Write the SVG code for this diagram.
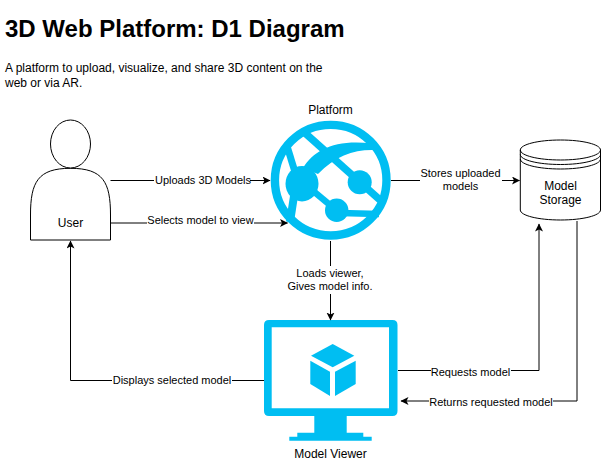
<svg xmlns="http://www.w3.org/2000/svg" width="601" height="461" viewBox="0 0 601 461">
<style>
text{font-family:"Liberation Sans",Arial,sans-serif;fill:#000;text-anchor:middle}
.l{font-size:11px}.n{font-size:12px}
.title{font-size:24px;font-weight:bold;text-anchor:start}
.desc{font-size:12px;text-anchor:start}
.c{fill:none;stroke:#000;stroke-width:1;marker-end:url(#a)}
.s{fill:#fff;stroke:#000;stroke-width:1}
.w{fill:#fff}.b{fill:#00bef2}
.g{fill:none;stroke:#00bef2;stroke-linecap:butt}
</style>
<defs><marker id="a" markerUnits="userSpaceOnUse" markerWidth="9" markerHeight="9" refX="7.500" refY="4" orient="auto"><path d="M0 0L8 4L0 8L2 4Z" fill="#000"/></marker></defs>
<rect width="601" height="461" fill="#fff"/>
<text class="title" x="5" y="37">3D Web Platform: D1 Diagram</text>
<text class="desc" x="5" y="72">A platform to upload, visualize, and share 3D content on the</text>
<text class="desc" x="5" y="87">web or via AR.</text>
<g id="user">
<path class="s" d="M30.500 240V215C30.500 182 38 168.300 70.500 168.300C103 168.300 110.500 182 110.500 215V240Z"/>
<ellipse class="s" cx="70.500" cy="144" rx="20" ry="24"/>
<text class="n" x="70.500" y="227">User</text>
</g>
<g id="platform">
<text class="n" x="330.500" y="114">Platform</text>
<ellipse cx="330.700" cy="180.200" rx="55.800" ry="55.300" fill="#fff" stroke="#00bef2" stroke-width="8.400"/>
<path class="g" stroke-width="7.500" d="M305 133L380 200"/>
<path class="g" stroke-width="7" d="M287 146L295 172"/>
<path class="g" stroke-width="8" d="M294 196L290 222"/>
<path class="g" stroke-width="6.500" d="M312 190L330 205"/>
<path class="g" stroke-width="6.500" d="M340 213L379 214"/>
<path class="b" d="M303 168C314 150 335 139 372 143.500L376 150C355 149 336 155 318 174Z"/>
<ellipse class="b" cx="302" cy="183.700" rx="16.500" ry="17.700"/>
<circle class="b" cx="359.700" cy="182.300" r="12"/>
<circle class="b" cx="336.700" cy="210.300" r="11.700"/>
</g>
<g id="storage">
<path class="s" d="M520.300 150V210C520.300 215.500 538 220 560.500 220C583 220 600.500 215.500 600.500 210V150C600.500 144.500 583 140 560.500 140C538 140 520.300 144.500 520.300 150Z"/>
<path fill="none" stroke="#000" d="M520.300 150C520.300 155.500 538 160 560.500 160C583 160 600.500 155.500 600.500 150M520.300 154.500C520.300 160 538 164.500 560.500 164.500C583 164.500 600.500 160 600.500 154.500M520.300 159C520.300 164.500 538 169 560.500 169C583 169 600.500 164.500 600.500 159"/>
<text class="n" x="560.500" y="190">Model</text><text class="n" x="560.500" y="204">Storage</text>
</g>
<g id="viewer">
<path class="b" fill-rule="evenodd" d="M269 320H392.500Q397.500 320 397.500 325V411Q397.500 416 392.500 416H269Q264 416 264 411V325Q264 320 269 320ZM271.700 327.300V408.300H389V327.300Z"/>
<path class="b" d="M314.300 416H346.700V432.700H363.300V436.700H371.700V440.700H289.300V436.700H297.300V432.700H314.300Z"/>
<path class="b" d="M332.700 344L354.300 355.700L332.700 367.300L311 355.700Z"/>
<path class="b" d="M310.300 360.700L330 371.700V396L310.300 384Z"/>
<path class="b" d="M335 371.700L355.700 360.700V384L335 396Z"/>
<text class="n" x="330.500" y="458">Model Viewer</text>
</g>
<g id="connectors">
<path class="c" d="M110.500 180.500H270"/>
<path class="c" d="M110.500 223H287.500"/>
<path class="c" d="M391 180.500H519.500"/>
<path class="c" d="M330.500 241V320"/>
<path class="c" d="M264 380.500H70.500V241"/>
<path class="c" d="M398 370.500H539V224"/>
<path class="c" d="M577 221V401H401"/>
<rect class="w" x="154" y="174" width="96" height="13"/><text class="l" x="203" y="184">Uploads 3D Models</text>
<rect class="w" x="147" y="214" width="107" height="13"/><text class="l" x="200.500" y="224">Selects model to view</text>
<rect class="w" x="420" y="166" width="82" height="28"/><text class="l" x="460.500" y="177">Stores uploaded</text><text class="l" x="460.500" y="190">models</text>
<rect class="w" x="288" y="266" width="85" height="28"/><text class="l" x="330" y="277">Loads viewer,</text><text class="l" x="330" y="290">Gives model info.</text>
<rect class="w" x="112" y="374" width="120" height="13"/><text class="l" x="172" y="384">Displays selected model</text>
<rect class="w" x="431" y="366" width="80" height="13"/><text class="l" x="470.500" y="376">Requests model</text>
<rect class="w" x="429" y="396" width="124" height="13"/><text class="l" x="491" y="406">Returns requested model</text>
</g>
</svg>
